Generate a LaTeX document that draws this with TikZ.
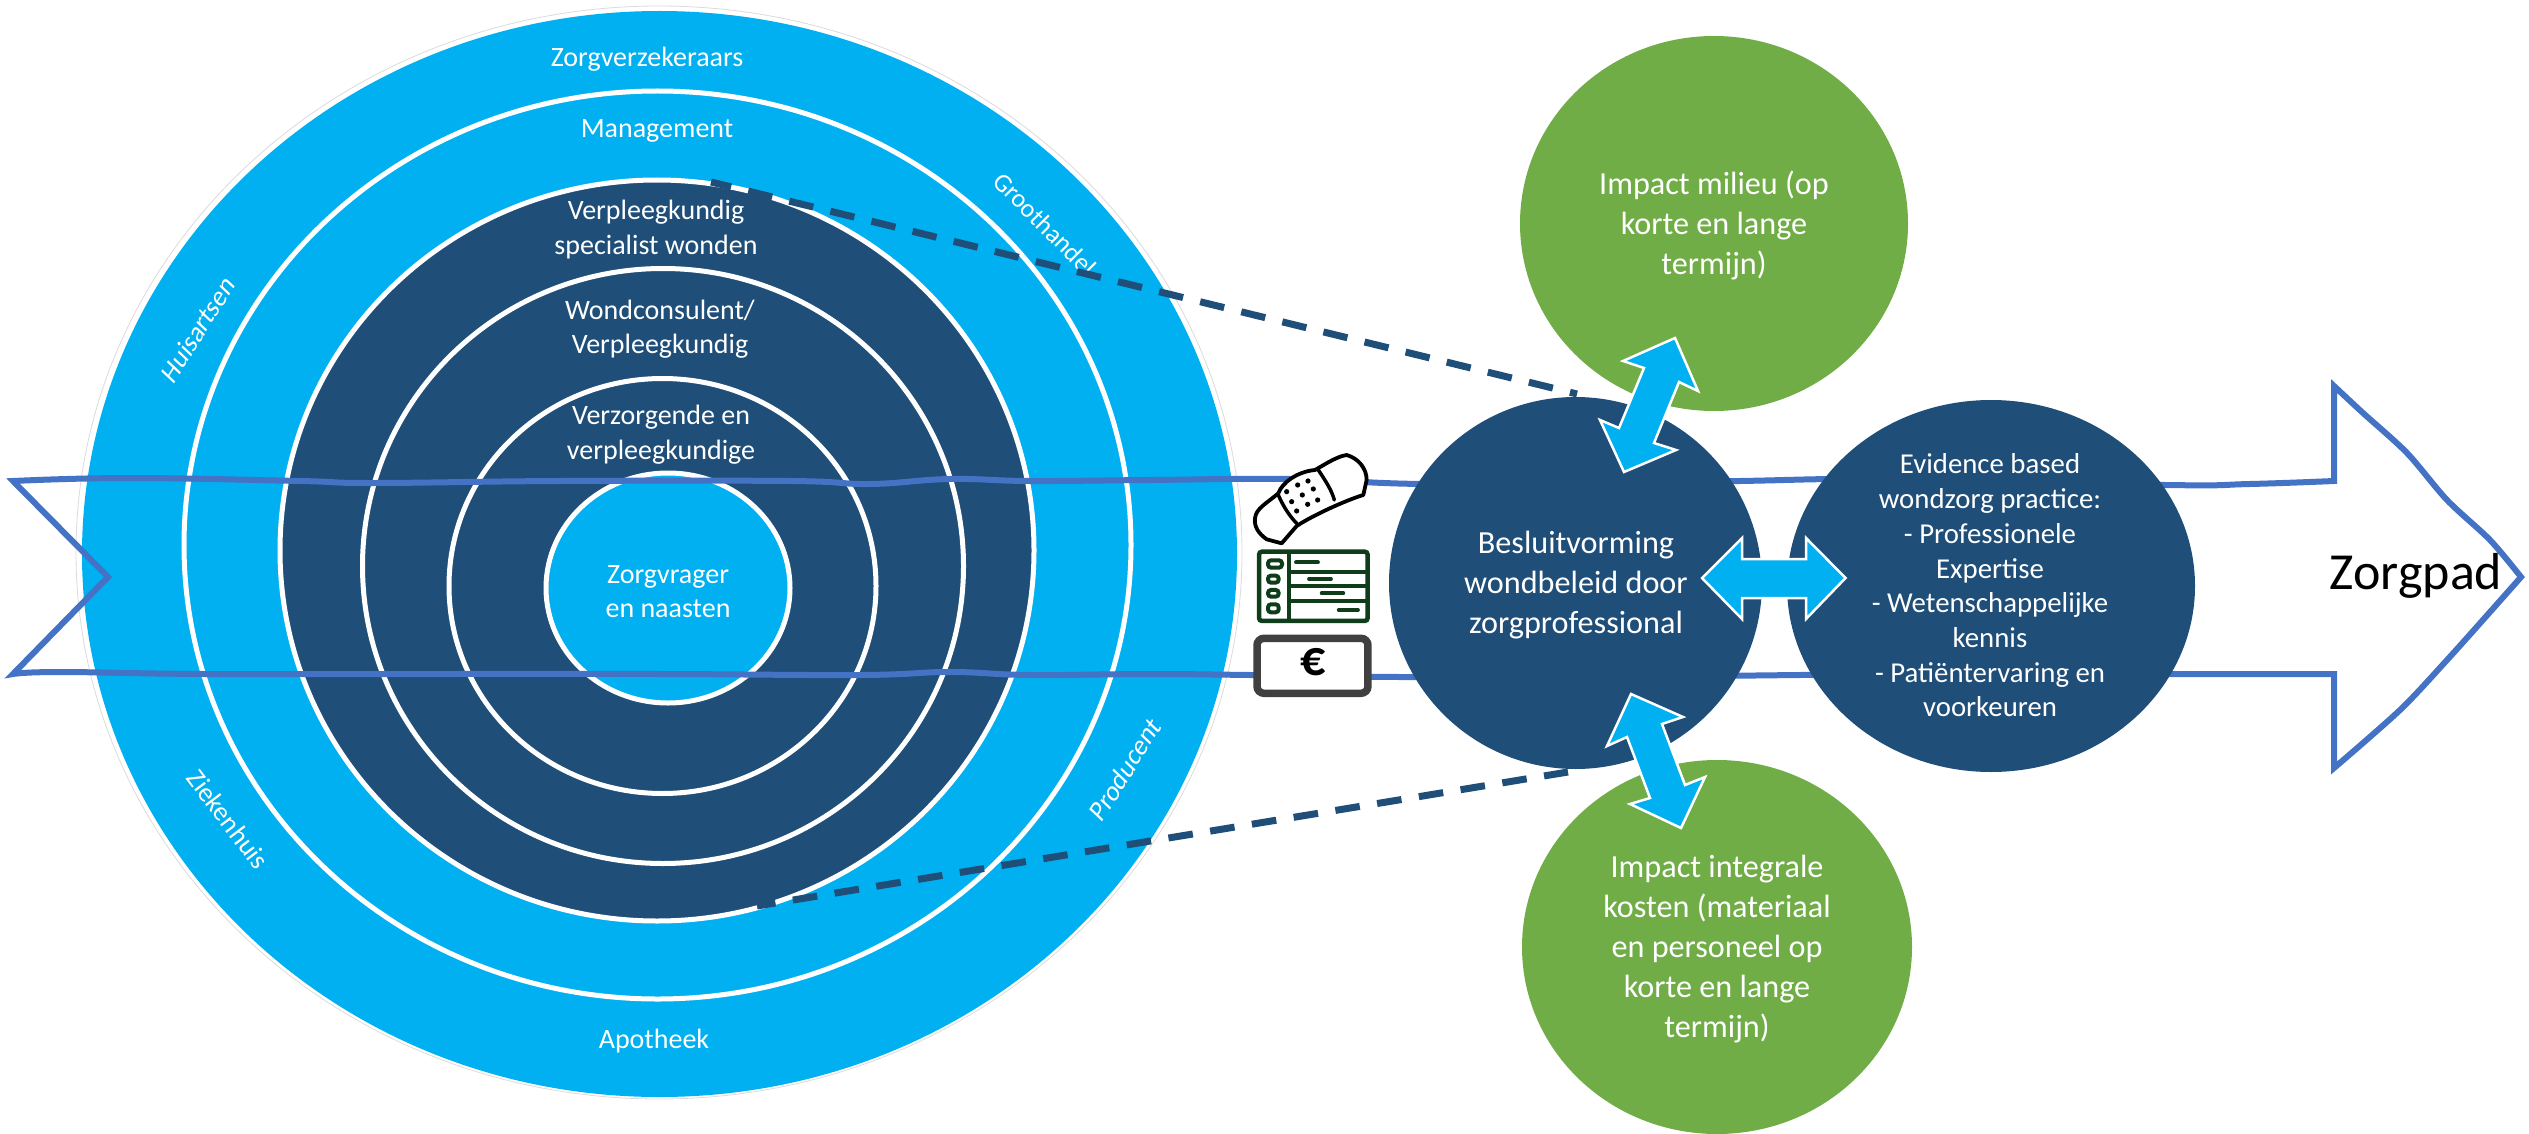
\documentclass[tikz,border=0pt]{standalone}
\usepackage{fontspec}
\setmainfont{Carlito}
\usetikzlibrary{shapes.geometric}
\definecolor{lightblue}{HTML}{00B0F0}
\definecolor{darkblue}{HTML}{1F4E79}
\definecolor{leaf}{HTML}{70AD47}
\definecolor{band}{HTML}{4472C4}
\definecolor{chartgreen}{HTML}{0F3D1A}
\definecolor{billgrey}{HTML}{404040}
\tikzset{
  x=1pt,y=-1pt,
  disc/.style={shape=ellipse,inner sep=0pt,outer sep=0pt},
  ringdark/.style={disc,fill=darkblue,draw=white,line width=5pt},
  ringlight/.style={disc,fill=lightblue,draw=white,line width=5pt},
  lab/.style={text=white,align=center,inner sep=0pt,font=\fontsize{28}{34.6}\selectfont},
  labbig/.style={text=white,align=center,inner sep=0pt,font=\fontsize{32.2}{40}\selectfont},
  bandline/.style={draw=band,line width=6pt,line join=miter,miter limit=14},
  dashline/.style={draw=darkblue,line width=7pt,dash pattern=on 24.7pt off 17.6pt},
  blockarrow/.style={fill=lightblue,draw=white,line width=2.5pt,line join=miter,miter limit=8},
}
\begin{document}
\begin{tikzpicture}
\useasboundingbox (0,0) rectangle (2529,1134);
% concentric rings
\node[disc,draw=black!14,line width=0.8pt,fill=white,minimum width=1166pt,minimum height=1093pt] (halo) at (659,552.5) {};
\node[disc,fill=lightblue,minimum width=1155pt,minimum height=1086pt] (outer) at (659.5,554) {};
\node[ringlight,minimum width=947pt,minimum height=908pt] (mgmt) at (657.5,545) {};
\node[ringdark,minimum width=754pt,minimum height=741pt] (vs) at (657,550.5) {};
\node[ringdark,minimum width=601pt,minimum height=595pt] (wc) at (663,566) {};
\node[ringdark,minimum width=427pt,minimum height=415pt] (vz) at (662.5,586) {};
\node[ringlight,minimum width=244pt,minimum height=230pt] (zv) at (668,588) {};
% care path outline
\draw[bandline] (13,481) -- plot[smooth,tension=0.7] coordinates {(13,481) (130,478) (300,481) (373,483) (560,481) (790,481) (870,484) (950,479) (1030,481) (1150,480) (1290,479) (1420,484) (1600,484) (1740,481) (1900,479) (2165,485) (2250,484) (2334,481)}
  -- (2334,386) -- plot[smooth] coordinates {(2334,386) (2363,413) (2407,453) (2447,500) (2490,540) (2521,577)}
  -- plot[smooth] coordinates {(2521,577) (2490,612) (2447,660) (2400,710) (2334,768)}
  -- (2334,674) -- plot[smooth,tension=0.7] coordinates {(2334,674) (2200,674) (1900,674) (1800,675) (1600,677) (1400,677) (1250,675) (1150,674) (1030,675) (950,672) (860,675) (660,674) (430,674) (205,674) (60,672) (13,674)}
  -- (108,577) -- cycle;
% this label lies under the dashed link
\node[lab,font=\fontsize{26}{30}\selectfont,rotate=-45] (t9) at (1045,224) {Groothandel};
% dashed links (drawn after the rings)
\coordinate (dashTopA) at (711,182);
\coordinate (dashTopB) at (1577,394);
\coordinate (dashBotA) at (757,906);
\coordinate (dashBotB) at (1568,772);
\draw[dashline,dash phase=4pt] (dashTopA) -- (dashTopB);
\draw[dashline,dash phase=6pt] (dashBotA) -- (dashBotB);
% right-hand circles
\node[disc,fill=leaf,minimum width=388pt,minimum height=375pt] (milieu) at (1714,223.5) {};
\node[disc,fill=leaf,minimum width=390pt,minimum height=374pt] (kosten) at (1717,947) {};
\node[disc,fill=darkblue,minimum width=373pt,minimum height=372pt] (besluit) at (1575.5,583) {};
\node[disc,fill=darkblue,minimum width=408pt,minimum height=372pt] (evidence) at (1991,586) {};
% block arrows
\draw[blockarrow] (1675,338) -- (1698,391) -- (1679,382) -- (1654,443) -- (1676,450) -- (1624,472) -- (1600,420) -- (1619,428) -- (1644,368) -- (1623,361) -- cycle;
\draw[blockarrow] (1631,694) -- (1683,717) -- (1662,724) -- (1685,785) -- (1705,777) -- (1681,828) -- (1630,804) -- (1650,798) -- (1627,737) -- (1607,746) -- cycle;
\draw[blockarrow] (1702,578) -- (1742,538) -- (1742,559) -- (1806,559) -- (1806,538) -- (1845.5,578) -- (1806,619) -- (1806,598) -- (1742,598) -- (1742,619) -- cycle;
% labels
\node[lab] (t1) at (647,59.5) {Zorgverzekeraars};
\node[lab] (t2) at (657,130.5) {Management};
\node[lab] (t3) at (656,229.5) {Verpleegkundig\\specialist wonden};
\node[lab] (t4) at (660,329) {Wondconsulent/\\Verpleegkundig};
\node[lab] (t5) at (661,434.5) {Verzorgende en\\verpleegkundige};
\node[lab] (t6) at (668,591.5) {Zorgvrager\\en naasten};
\node[lab] (t7) at (654,1041.5) {Apotheek};
\node[lab,font=\fontsize{27}{30}\selectfont,transform shape,rotate=58,xslant=0.2] (t8) at (198,329) {Huisartsen};
\node[lab,font=\fontsize{27}{30}\selectfont,rotate=-53] (t10) at (228,819) {Ziekenhuis};
\node[lab,font=\fontsize{27}{30}\selectfont,transform shape,rotate=58,xslant=0.2] (t11) at (1125,769) {Producent};
\node[labbig] (t12) at (1576,585) {Besluitvorming\\wondbeleid door\\zorgprofessional};
\node[lab,font=\fontsize{28.8}{34.7}\selectfont] (t13) at (1990,585.5) {Evidence based\\wondzorg practice:\\- Professionele\\Expertise\\- Wetenschappelijke\\kennis\\- Patiëntervaring en\\voorkeuren};
\node[labbig] (t14) at (1714,225.5) {Impact milieu (op\\korte en lange\\termijn)};
\node[labbig] (t15) at (1717,949.5) {Impact integrale\\kosten (materiaal\\en personeel op\\korte en lange\\termijn)};
\node[text=black,inner sep=0pt,font=\fontsize{52}{58}\selectfont] (t16) at (2416,575.5) {Zorgpad};
% icons, in a local grid
\begin{scope}[shift={(1150,400)},x=0.3333pt,y=-0.3333pt]
  % plaster
  \draw[fill=white,draw=black,line width=3.8pt,line join=round]
    (315,355) .. controls (318,325) and (350,310) .. (385,280)
    .. controls (395,250) and (440,215) .. (495,210)
    .. controls (530,190) and (560,170) .. (590,165)
    .. controls (625,175) and (650,205) .. (650,240)
    -- (640,285) .. controls (590,300) and (490,345) .. (440,378)
    -- (395,430) -- (350,418) .. controls (325,400) and (312,380) .. (315,355) -- cycle;
  \draw[black,line width=3.5pt,line cap=round] (385,285) .. controls (400,320) and (420,350) .. (440,370);
  \draw[black,line width=3.5pt,line cap=round] (505,210) .. controls (525,240) and (545,270) .. (553,300);
  \foreach \dx/\dy in {410/275,443/255,474/243,425/305,457/285,490/267,440/333,473/313,503/300}
    \fill[black] (\dx,\dy) circle (2.6pt);
  % schedule
  \draw[draw=chartgreen,fill=white,line width=4.5pt,rounded corners=3pt] (327,455) rectangle (653,663);
  \draw[chartgreen,line width=4pt] (418,455) -- (418,663);
  \draw[chartgreen,line width=4pt] (418,515) -- (653,515) (418,558) -- (653,558) (418,603) -- (653,603);
  \draw[chartgreen,line width=4pt,rounded corners=3pt] (354,481) rectangle (396,503);
  \draw[chartgreen,line width=4pt,rounded corners=3pt] (354,527) rectangle (386,548);
  \draw[chartgreen,line width=4pt,rounded corners=3pt] (354,570) rectangle (386,590);
  \draw[chartgreen,line width=4pt,rounded corners=3pt] (354,613) rectangle (386,637);
  \draw[chartgreen,line width=3.8pt,line cap=round] (438,487) -- (504,487) (477,537) -- (543,537) (515,580) -- (580,580) (566,630) -- (624,630);
  % banknote
  \draw[draw=billgrey,fill=white,line width=7.5pt,rounded corners=7pt] (321,715) rectangle (654,880);
\end{scope}
\node[text=black,inner sep=0pt,font=\fontsize{50}{52}\selectfont\bfseries] (euro) at (1312.7,661.7) {€};
\end{tikzpicture}
\end{document}
